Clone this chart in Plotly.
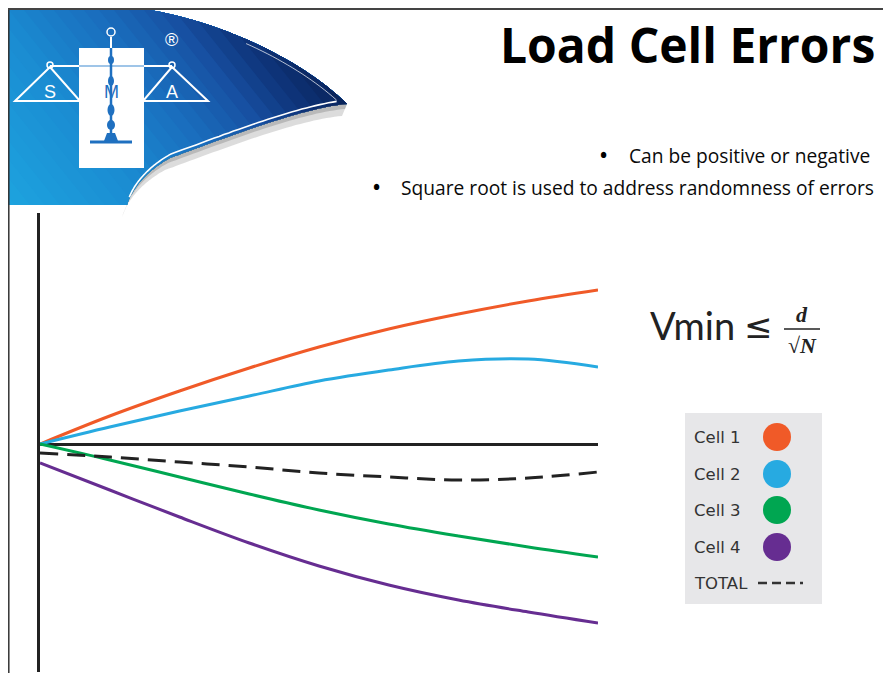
import plotly.graph_objects as go
import numpy as np

# ---------------- data ----------------
series_names = ["Cell 1", "Cell 2", "Cell 3", "Cell 4", "TOTAL"]
series_colors = ["#f05a28", "#27aae1", "#00a651", "#662d91", "#222222"]

x_vals = [0, 1.25, 2.5, 3.75, 5, 6.25, 7.5, 8.75, 10]
cell1_y = [0, 28, 53, 76, 97, 115, 130, 143, 154]
cell2_y = [0, 17, 33, 48, 63, 74, 83, 85, 77]
cell3_y = [0, -16, -33, -50, -66, -80, -92, -103, -113]
cell4_y = [-19, -46, -73, -99, -122, -141, -156, -168, -179]
total_y = [-9, -13, -18, -23, -29, -33, -36, -34, -28]

title_text = "Load Cell Errors"
bullet_texts = ["Can be positive or negative",
                "Square root is used to address randomness of errors"]

W, H = 891, 673
OFF = 8  # page body margin

fig = go.Figure()

ys = [cell1_y, cell2_y, cell3_y, cell4_y, total_y]
for i, (name, col) in enumerate(zip(series_names, series_colors)):
    fig.add_trace(go.Scatter(
        x=x_vals, y=ys[i], mode="lines", name=name,
        line=dict(color=col, width=3, shape="spline", smoothing=1.0,
                  dash="18px,9px" if name == "TOTAL" else "solid"),
        showlegend=False, hoverinfo="skip", xaxis="x", yaxis="y"))

# dummy trace for the pixel overlay axes
fig.add_trace(go.Scatter(x=[None], y=[None], xaxis="x2", yaxis="y2",
                         showlegend=False, hoverinfo="skip"))

shapes = []
annotations = []

def P(pts):
    return "M " + " L ".join(f"{x:.2f},{y:.2f}" for x, y in pts) + " Z"

def bez(p0, p1, p2, p3, n=40):
    t = np.linspace(0, 1, n)[:, None]
    p0, p1, p2, p3 = map(np.array, (p0, p1, p2, p3))
    pts = ((1 - t) ** 3) * p0 + 3 * ((1 - t) ** 2) * t * p1 + 3 * (1 - t) * t * t * p2 + t ** 3 * p3
    return [tuple(p) for p in pts]

# blue swoosh outline (page pixel coords)
outer = bez((150, 10), (220, 22), (300, 58), (347, 104))
inner1 = bez((347, 104), (300, 108), (220, 140), (170, 158))
inner2 = bez((170, 158), (148, 170), (132, 188), (127, 205))
poly = [(8, 10)] + outer + inner1[1:] + inner2[1:] + [(8, 205)]

def clip(poly, a, b, c):
    out = []
    n = len(poly)
    for i in range(n):
        Pp = poly[i]; Q = poly[(i + 1) % n]
        fp = a * Pp[0] + b * Pp[1] - c
        fq = a * Q[0] + b * Q[1] - c
        if fp >= 0:
            out.append(Pp)
        if (fp >= 0) != (fq >= 0):
            t = fp / (fp - fq)
            out.append((Pp[0] + t * (Q[0] - Pp[0]), Pp[1] + t * (Q[1] - Pp[1])))
    return out

stops = [(0, (30, 165, 224)), (150, (27, 140, 210)), (250, (26, 110, 190)),
         (320, (24, 82, 164)), (370, (16, 56, 128)), (440, (8, 32, 84))]

def col_at(t):
    for (t0, c0), (t1, c1) in zip(stops[:-1], stops[1:]):
        if t <= t1:
            f = (t - t0) / (t1 - t0)
            c = [int(c0[k] + f * (c1[k] - c0[k])) for k in range(3)]
            return f"rgb({c[0]},{c[1]},{c[2]})"
    c = stops[-1][1]
    return f"rgb({c[0]},{c[1]},{c[2]})"

step = 15
for c in range(-15, 445, step):
    sub = clip(poly, 1.0, -0.8, c - 164) if c > 0 else poly
    if len(sub) < 3:
        continue
    shapes.append(dict(type="path", path=P(sub), xref="x2", yref="y2",
                       fillcolor=col_at(max(c, 0) + step / 2), line=dict(width=0), layer="below"))

# shadow under the curl
curl = inner1 + inner2[1:]
shadow = curl + [(p[0] - 5, p[1] + 12) for p in reversed(curl)]
shapes.append(dict(type="path", path=P(shadow), xref="x2", yref="y2",
                   fillcolor="rgba(140,140,140,0.30)", line=dict(width=0), layer="below"))
shadow2 = curl + [(p[0] - 2, p[1] + 5) for p in reversed(curl)]
shapes.append(dict(type="path", path=P(shadow2), xref="x2", yref="y2",
                   fillcolor="rgba(120,120,120,0.35)", line=dict(width=0), layer="below"))
# white highlight along curl
hl = [(p[0] + 1, p[1] - 4) for p in inner1[3:] + inner2[1:-3]]
shapes.append(dict(type="path", path="M " + " L ".join(f"{x:.1f},{y:.1f}" for x, y in hl),
                   xref="x2", yref="y2", line=dict(color="white", width=1.6)))
hl2 = [(p[0] - 3, p[1] + 3) for p in outer[18:38]]
shapes.append(dict(type="path", path="M " + " L ".join(f"{x:.1f},{y:.1f}" for x, y in hl2),
                   xref="x2", yref="y2", line=dict(color="rgba(255,255,255,0.7)", width=1)))

# logo
LB = "#1f70c0"
shapes += [
    dict(type="rect", x0=79, x1=144, y0=48, y1=168, xref="x2", yref="y2",
         fillcolor="white", line=dict(width=0)),
    dict(type="line", x0=50, x1=79, y0=66, y1=66, xref="x2", yref="y2", line=dict(color="white", width=2)),
    dict(type="line", x0=144, x1=172, y0=66, y1=66, xref="x2", yref="y2", line=dict(color="white", width=2)),
    dict(type="line", x0=79, x1=144, y0=66, y1=66, xref="x2", yref="y2", line=dict(color="#7fb2e0", width=1.5)),
    dict(type="path", path="M 50,67 L 15,101 L 80,101 Z", xref="x2", yref="y2", line=dict(color="white", width=2)),
    dict(type="path", path="M 172,67 L 143,101 L 208,101 Z", xref="x2", yref="y2", line=dict(color="white", width=2)),
    dict(type="circle", x0=47, x1=53, y0=62, y1=68, xref="x2", yref="y2", line=dict(color="white", width=1.5)),
    dict(type="circle", x0=169, x1=175, y0=62, y1=68, xref="x2", yref="y2", line=dict(color="white", width=1.5)),
    dict(type="line", x0=111, x1=111, y0=37, y1=48, xref="x2", yref="y2", line=dict(color="white", width=2)),
    dict(type="circle", x0=107, x1=115, y0=28, y1=36, xref="x2", yref="y2", line=dict(color="white", width=1.5)),
    dict(type="line", x0=111, x1=111, y0=48, y1=138, xref="x2", yref="y2", line=dict(color=LB, width=2.5)),
    dict(type="circle", x0=108, x1=114, y0=56, y1=64, xref="x2", yref="y2", fillcolor=LB, line=dict(width=0)),
    dict(type="circle", x0=108, x1=114, y0=76, y1=86, xref="x2", yref="y2", fillcolor=LB, line=dict(width=0)),
    dict(type="circle", x0=107.5, x1=114.5, y0=104, y1=116, xref="x2", yref="y2", fillcolor=LB, line=dict(width=0)),
    dict(type="circle", x0=107, x1=115, y0=120, y1=130, xref="x2", yref="y2", fillcolor=LB, line=dict(width=0)),
    dict(type="path", path="M 104,141 L 107,133 L 115,133 L 118,141 Z", xref="x2", yref="y2", fillcolor=LB, line=dict(width=0)),
    dict(type="line", x0=90, x1=132, y0=142, y1=142, xref="x2", yref="y2", line=dict(color=LB, width=3)),
]
for txt, x, c in [("S", 50, "white"), ("M", 111, LB), ("A", 172, "white")]:
    annotations.append(dict(x=x, y=92, xref="x2", yref="y2", text=txt, showarrow=False,
                            font=dict(family="Liberation Sans", size=18, color=c)))
annotations.append(dict(x=171, y=40, xref="x2", yref="y2", text="®", showarrow=False,
                        font=dict(family="Liberation Sans", size=18, color="white")))

# frame lines
shapes.append(dict(type="line", x0=8.8, x1=8.8, y0=8, y1=690, xref="x2", yref="y2", line=dict(color="#333", width=1.5)))
shapes.append(dict(type="line", x0=8, x1=900, y0=9, y1=9, xref="x2", yref="y2", line=dict(color="#444", width=2)))

# title and bullets
annotations.append(dict(x=877, y=44, xref="x2", yref="y2", text="<b>" + title_text + "</b>",
                        xanchor="right", yanchor="middle", showarrow=False,
                        font=dict(family="Open Sans", size=48, color="#000")))
for txt, bx, tx, y in [(bullet_texts[0], 603, 627, 155), (bullet_texts[1], 376, 399, 187)]:
    annotations.append(dict(x=bx, y=y, xref="x2", yref="y2", text="<b>•</b>", showarrow=False,
                            xanchor="center", yanchor="middle",
                            font=dict(family="Open Sans", size=19, color="#000")))
    annotations.append(dict(x=tx, y=y, xref="x2", yref="y2", text=txt, showarrow=False,
                            xanchor="left", yanchor="middle",
                            font=dict(family="Open Sans", size=19.2, color="#0a0a0a")))

# formula
annotations.append(dict(x=737, y=325, xref="x2", yref="y2", text="Vmin", showarrow=False,
                        xanchor="right", yanchor="middle",
                        font=dict(family="Lato", size=38, color="#222")))
annotations.append(dict(x=758, y=326, xref="x2", yref="y2", text="≤", showarrow=False,
                        xanchor="center", yanchor="middle",
                        font=dict(family="DejaVu Sans", size=34, color="#222")))
annotations.append(dict(x=802, y=314, xref="x2", yref="y2", text="<i><b>d</b></i>", showarrow=False,
                        xanchor="center", yanchor="middle",
                        font=dict(family="Liberation Serif", size=22, color="#222")))
annotations.append(dict(x=802, y=345, xref="x2", yref="y2", text="√<i><b>N</b></i>", showarrow=False,
                        xanchor="center", yanchor="middle",
                        font=dict(family="Liberation Serif", size=22, color="#222")))
shapes.append(dict(type="line", x0=784, x1=820, y0=329, y1=329, xref="x2", yref="y2",
                   line=dict(color="#222", width=1.6)))

# legend box
shapes.append(dict(type="rect", x0=685, x1=822, y0=413, y1=604, xref="x2", yref="y2",
                   fillcolor="#e7e7e9", line=dict(width=0)))
row_y = [437, 474, 510, 547, 583]
for name, col, y in zip(series_names, series_colors, row_y):
    annotations.append(dict(x=692, y=y, xref="x2", yref="y2", text=name, showarrow=False,
                            xanchor="left", yanchor="middle",
                            font=dict(family="DejaVu Sans", size=16.5, color="#333")))
    if name == "TOTAL":
        shapes.append(dict(type="line", x0=758, x1=803, y0=y, y1=y, xref="x2", yref="y2",
                           line=dict(color="#333", width=2.5, dash="9px,5px")))
    else:
        shapes.append(dict(type="circle", x0=763, x1=791, y0=y - 14, y1=y + 14, xref="x2", yref="y2",
                           fillcolor=col, line=dict(width=0)))

fig.update_layout(
    width=W, height=H, margin=dict(l=0, r=0, t=0, b=0),
    paper_bgcolor="white", plot_bgcolor="rgba(0,0,0,0)",
    showlegend=False,
    xaxis=dict(domain=[(40 - OFF) / W, (598 - OFF) / W], range=[0, 10], visible=True, showgrid=False,
               zeroline=False, showticklabels=False, ticks="", showline=False, fixedrange=True),
    yaxis=dict(domain=[1 - (672 - OFF) / H, 1 - (213 - OFF) / H], range=[444 - 672, 444 - 213],
               showgrid=False, zeroline=True, zerolinecolor="#222", zerolinewidth=3,
               showline=True, linecolor="#222", linewidth=3, showticklabels=False, ticks="",
               fixedrange=True),
    xaxis2=dict(domain=[0, 1], range=[OFF, W + OFF], anchor="y2", visible=False, fixedrange=True),
    yaxis2=dict(domain=[0, 1], range=[H + OFF, OFF], anchor="x2", visible=False, fixedrange=True),
    shapes=shapes, annotations=annotations,
)

fig.write_html("out.html")
